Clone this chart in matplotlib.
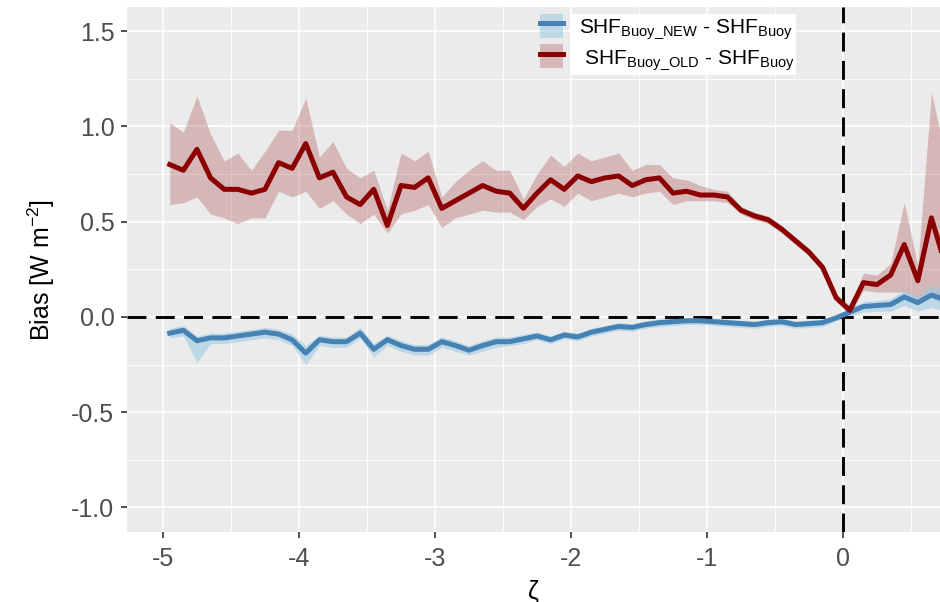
import matplotlib
matplotlib.use("Agg")
import matplotlib.pyplot as plt
from matplotlib.patches import Patch, Rectangle
from matplotlib.lines import Line2D
from matplotlib.ticker import MultipleLocator

plt.rcParams["font.family"] = ["Liberation Sans", "DejaVu Sans"]
plt.rcParams["mathtext.fontset"] = "custom"
plt.rcParams["mathtext.rm"] = "Liberation Sans"
plt.rcParams["mathtext.it"] = "Liberation Sans:italic"

# ----------------------------
# Data
# ----------------------------
zeta = [-4.95, -4.85, -4.75, -4.65, -4.55, -4.45, -4.35, -4.25, -4.15, -4.05,
        -3.95, -3.85, -3.75, -3.65, -3.55, -3.45, -3.35, -3.25, -3.15, -3.05,
        -2.95, -2.85, -2.75, -2.65, -2.55, -2.45, -2.35, -2.25, -2.15, -2.05,
        -1.95, -1.85, -1.75, -1.65, -1.55, -1.45, -1.35, -1.25, -1.15, -1.05,
        -0.95, -0.85, -0.75, -0.65, -0.55, -0.45, -0.35, -0.25, -0.15, -0.05,
        0.05, 0.15, 0.25, 0.35, 0.45, 0.55, 0.65, 0.75]

old_bias = [0.80, 0.77, 0.88, 0.73, 0.67, 0.67, 0.65, 0.67, 0.81, 0.78,
            0.91, 0.73, 0.76, 0.63, 0.59, 0.67, 0.48, 0.69, 0.68, 0.73,
            0.57, 0.61, 0.65, 0.69, 0.66, 0.65, 0.57, 0.65, 0.72, 0.67,
            0.74, 0.71, 0.73, 0.74, 0.69, 0.72, 0.73, 0.65, 0.66, 0.64,
            0.64, 0.63, 0.56, 0.53, 0.51, 0.46, 0.40, 0.34, 0.26, 0.10,
            0.035, 0.18, 0.17, 0.22, 0.38, 0.19, 0.52, 0.28]
old_hi = [1.02, 0.97, 1.16, 0.96, 0.82, 0.86, 0.77, 0.87, 0.98, 0.98,
          1.15, 0.84, 0.92, 0.78, 0.73, 0.77, 0.56, 0.86, 0.82, 0.87,
          0.63, 0.71, 0.77, 0.82, 0.77, 0.77, 0.62, 0.75, 0.85, 0.79,
          0.86, 0.82, 0.84, 0.86, 0.77, 0.80, 0.80, 0.73, 0.72, 0.69,
          0.67, 0.66, 0.58, 0.55, 0.53, 0.48, 0.42, 0.36, 0.28, 0.12,
          0.06, 0.23, 0.22, 0.28, 0.60, 0.27, 1.18, 0.85]
old_lo = [0.59, 0.60, 0.63, 0.54, 0.52, 0.49, 0.52, 0.52, 0.66, 0.63,
          0.66, 0.57, 0.61, 0.54, 0.49, 0.54, 0.44, 0.54, 0.56, 0.59,
          0.47, 0.52, 0.54, 0.56, 0.55, 0.55, 0.51, 0.58, 0.62, 0.58,
          0.65, 0.61, 0.63, 0.65, 0.63, 0.65, 0.66, 0.59, 0.61, 0.61,
          0.61, 0.60, 0.54, 0.51, 0.49, 0.44, 0.38, 0.32, 0.24, 0.08,
          0.01, 0.14, 0.13, 0.13, 0.13, 0.09, 0.10, 0.06]

new_bias = [-0.085, -0.07, -0.125, -0.11, -0.11, -0.10, -0.09, -0.08, -0.09, -0.12,
            -0.19, -0.12, -0.13, -0.13, -0.085, -0.17, -0.12, -0.15, -0.17, -0.17,
            -0.13, -0.15, -0.175, -0.15, -0.13, -0.13, -0.115, -0.10, -0.12, -0.095,
            -0.105, -0.08, -0.065, -0.05, -0.055, -0.04, -0.03, -0.025, -0.02, -0.02,
            -0.025, -0.03, -0.035, -0.04, -0.03, -0.025, -0.04, -0.035, -0.03, -0.005,
            0.025, 0.055, 0.06, 0.065, 0.105, 0.075, 0.115, 0.09]
new_hi = [-0.06, -0.045, -0.10, -0.085, -0.085, -0.075, -0.065, -0.055, -0.065, -0.09,
          -0.15, -0.095, -0.105, -0.105, -0.055, -0.14, -0.095, -0.125, -0.145, -0.145,
          -0.105, -0.125, -0.15, -0.125, -0.105, -0.105, -0.09, -0.08, -0.10, -0.075,
          -0.085, -0.06, -0.045, -0.03, -0.035, -0.02, -0.012, -0.008, -0.004, -0.004,
          -0.008, -0.012, -0.017, -0.022, -0.012, -0.008, -0.022, -0.017, -0.012, 0.012,
          0.045, 0.08, 0.085, 0.095, 0.14, 0.11, 0.17, 0.14]
new_lo = [-0.11, -0.10, -0.24, -0.14, -0.14, -0.13, -0.12, -0.11, -0.12, -0.15,
          -0.25, -0.15, -0.16, -0.16, -0.11, -0.21, -0.15, -0.18, -0.20, -0.20,
          -0.16, -0.18, -0.20, -0.18, -0.16, -0.15, -0.14, -0.12, -0.14, -0.115,
          -0.125, -0.10, -0.085, -0.07, -0.075, -0.06, -0.05, -0.045, -0.04, -0.04,
          -0.045, -0.05, -0.055, -0.06, -0.05, -0.045, -0.06, -0.055, -0.05, -0.02,
          0.005, 0.025, 0.03, 0.03, 0.06, 0.03, 0.05, 0.03]

x_ticks = [-5, -4, -3, -2, -1, 0]
y_ticks = [-1.0, -0.5, 0.0, 0.5, 1.0, 1.5]

label_new = r"SHF$_{\mathrm{Buoy\_NEW}}$ - SHF$_{\mathrm{Buoy}}$"
label_old = r" SHF$_{\mathrm{Buoy\_OLD}}$ - SHF$_{\mathrm{Buoy}}$"

RED = "#8B0000"
BLUE = "#4682B4"
RED_FILL = "#8B0000"
BLUE_FILL = "#9ECAE1"

# ----------------------------
# Plot
# ----------------------------
fig = plt.figure(figsize=(9.4, 6.02), dpi=100)
ax = fig.add_axes([0.135, 0.116, 0.865, 0.872])
ax.set_facecolor("#EBEBEB")

ax.fill_between(zeta, old_lo, old_hi, color=RED_FILL, alpha=0.22, lw=0, zorder=2)
ax.fill_between(zeta, new_lo, new_hi, color=BLUE_FILL, alpha=0.6, lw=0, zorder=2)

ax.axhline(0, color="black", lw=2.1, dashes=(6.5, 3.2), zorder=3)
ax.axvline(0, color="black", lw=2.1, dashes=(6.5, 3.2), zorder=3)

ax.plot(zeta, new_bias, color=BLUE, lw=3.6, solid_joinstyle="round", zorder=4)
ax.plot(zeta, old_bias, color=RED, lw=3.6, solid_joinstyle="round", zorder=4)

ax.set_xlim(-5.265, 0.713)
ax.set_ylim(-1.13, 1.626)
ax.set_xticks(x_ticks)
ax.set_xticklabels([str(t) for t in x_ticks])
ax.set_yticks(y_ticks)
ax.set_yticklabels(["%.1f" % t for t in y_ticks])
ax.xaxis.set_minor_locator(MultipleLocator(0.5))
ax.yaxis.set_minor_locator(MultipleLocator(0.25))

ax.grid(which="major", color="white", lw=1.2)
ax.grid(which="minor", color="white", lw=0.6)
ax.set_axisbelow(True)
for s in ax.spines.values():
    s.set_visible(False)

ax.tick_params(which="major", length=4, width=1.2, color="#333333",
               labelsize=18, labelcolor="#4D4D4D", pad=5)
ax.tick_params(which="minor", length=0)
ax.tick_params(axis="x", pad=7)

ax.set_xlabel("ζ", fontsize=18, labelpad=6)
ax.set_ylabel(r"Bias [W m$^{-2}$]", fontsize=18, labelpad=10)

handles = [
    (Patch(facecolor=BLUE_FILL, alpha=0.6, lw=0), Line2D([], [], color=BLUE, lw=3.6)),
    (Patch(facecolor=RED_FILL, alpha=0.22, lw=0), Line2D([], [], color=RED, lw=3.6)),
]
leg = ax.legend(handles, [label_new, label_old], loc="upper left",
                bbox_to_anchor=(540 / 940, 1 - 14 / 602),
                bbox_transform=fig.transFigure, frameon=False, fontsize=15,
                handlelength=1.1, handleheight=1.4, handletextpad=0.75,
                labelspacing=0.15, borderpad=0, borderaxespad=0)
leg.set_zorder(6)

# white box behind the legend labels
fig.canvas.draw()
boxes = [t.get_window_extent() for t in leg.get_texts()]
x0 = min(b.x0 for b in boxes) - 8
x1 = max(b.x1 for b in boxes) + 2
y0 = min(b.y0 for b in boxes) - 3
y1 = max(b.y1 for b in boxes) + 3
ax.add_patch(Rectangle((x0, y0), x1 - x0, y1 - y0, transform=None,
                       facecolor="white", edgecolor="none", zorder=5.5))

fig.savefig("out.png", dpi=100)
plt.close(fig)
print("Plot generated.")
